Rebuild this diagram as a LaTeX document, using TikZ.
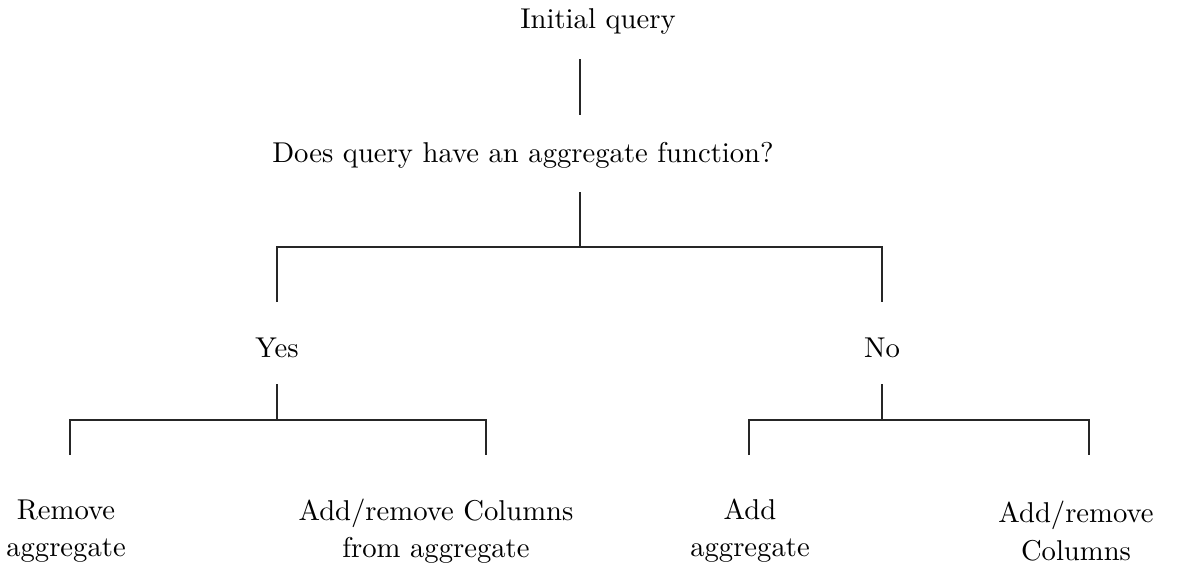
\documentclass[tikz,border=0pt]{standalone}
\begin{document}
\begin{tikzpicture}[x=0.3490pt, y=-0.3490pt,
  label/.style={inner sep=0pt, outer sep=0pt},
  leaf/.style={inner sep=0pt, outer sep=0pt, align=center},
  branch/.style={line width=0.4pt, black!85}]
  \useasboundingbox (0,0) rectangle (1179,564);

  % text of the decision tree
  \node[label, anchor=base] (init) at (598,29) {Initial query};
  \node[label, anchor=base] (ask) at (523,162) {Does query have an aggregate function?};
  \node[label, anchor=base] (yes) at (277,357) {Yes};
  \node[label, anchor=base] (no) at (882,357) {No};
  \node[leaf] (rem) at (66,531) {Remove\\[1pt]aggregate};
  \node[leaf] (addrem) at (436,531) {Add/remove Columns\\[1pt]from aggregate};
  \node[leaf] (add) at (750,531) {Add\\[1pt]aggregate};
  \node[leaf] (cols) at (1076,531) {Add/remove\\[1pt]Columns};

  % end points of the branches
  \coordinate (initB) at (580,59);
  \coordinate (askT) at (580,115);
  \coordinate (askB) at (580,192);
  \coordinate (fork) at (580,247);
  \coordinate (yesT) at (277,302);
  \coordinate (noT) at (882,302);
  \coordinate (yesB) at (277,384);
  \coordinate (yesF) at (277,420);
  \coordinate (noB) at (882,384);
  \coordinate (noF) at (882,420);
  \coordinate (remT) at (70,455);
  \coordinate (addremT) at (486,455);
  \coordinate (addT) at (749,455);
  \coordinate (colsT) at (1089,455);

  \draw[branch] (initB) -- (askT);
  \draw[branch] (askB) -- (fork);
  \draw[branch] (yesT) -- (yesT |- fork) -- (noT |- fork) -- (noT);
  \draw[branch] (yesB) -- (yesF);
  \draw[branch] (remT) -- (remT |- yesF) -- (addremT |- yesF) -- (addremT);
  \draw[branch] (noB) -- (noF);
  \draw[branch] (addT) -- (addT |- noF) -- (colsT |- noF) -- (colsT);
\end{tikzpicture}
\end{document}
